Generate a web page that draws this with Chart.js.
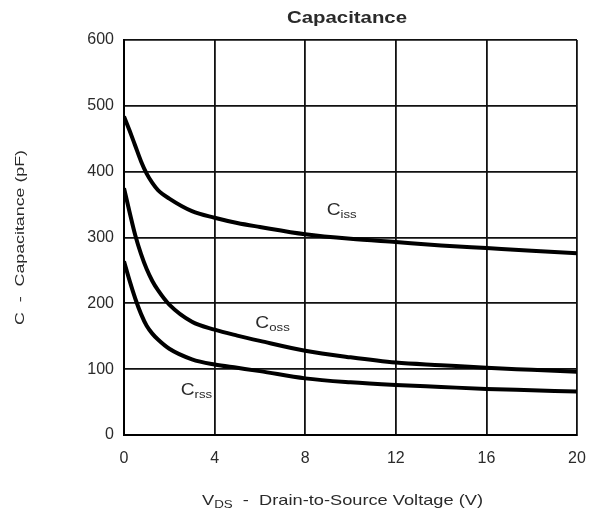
<!DOCTYPE html>
<html>
<head>
<meta charset="utf-8">
<script src="https://cdn.jsdelivr.net/npm/chart.js@4/dist/chart.umd.min.js"></script>
<style>
  html, body { margin: 0; padding: 0; background: #fff; }
  #wrap { width: 602px; height: 513px; position: relative; }
</style>
</head>
<body>
<div id="wrap"><canvas id="capChart"></canvas></div>
<script>
// V_DS values (V)
const vds = [0, 0.25, 0.5, 0.75, 1, 1.25, 1.5, 2, 3, 4, 5, 6, 8, 10, 12, 14, 16, 18, 20];
// capacitance curves (pF)
const ciss = [484, 462, 439, 416, 397, 383, 372, 359, 340, 330, 322, 316, 305, 298, 293, 288, 284, 280, 276];
const coss = [375, 338, 303, 275, 252, 234, 220, 198, 172, 160, 151, 143, 128, 118, 110, 106, 102, 99, 96];
const crss = [264, 234, 207, 184, 166, 154, 145, 131, 115, 107, 102, 97, 86, 80, 76, 73, 70, 68, 66];

const xTicks = [0, 4, 8, 12, 16, 20];
const yTicks = [0, 100, 200, 300, 400, 500, 600];

const FONT = '"Liberation Sans", Arial, sans-serif';
const TEXT = '#2a2a2a';

function toPoints(ys) {
    return vds.map((x, i) => ({ x: x, y: ys[i] }));
}

// curve labels: main letter + subscript, anchored in data units (left / baseline)
const curveLabels = [
    { main: 'C', sub: 'iss', x: 8.95, y: 334 },
    { main: 'C', sub: 'oss', x: 5.8, y: 163 },
    { main: 'C', sub: 'rss', x: 2.5, y: 61 }
];

// draw a sequence of text runs, stretched horizontally by `sx`
function runsWidth(ctx, runs) {
    let w = 0;
    runs.forEach(r => {
        ctx.font = (r.bold ? 'bold ' : '') + r.size + 'px ' + FONT;
        w += ctx.measureText(r.text).width;
    });
    return w;
}
function drawRuns(ctx, runs, x, y, sx) {
    ctx.save();
    ctx.translate(x, y);
    ctx.scale(sx, 1);
    ctx.textAlign = 'left';
    ctx.textBaseline = 'alphabetic';
    let cx = 0;
    runs.forEach(r => {
        ctx.font = (r.bold ? 'bold ' : '') + r.size + 'px ' + FONT;
        ctx.fillText(r.text, cx, r.dy || 0);
        cx += ctx.measureText(r.text).width;
    });
    ctx.restore();
}

const textPlugin = {
    id: 'textPlugin',
    afterDraw(chart) {
        const ctx = chart.ctx;
        const xs = chart.scales.x, ys = chart.scales.y;
        ctx.save();
        ctx.fillStyle = TEXT;

        // title
        const titleRuns = [{ text: 'Capacitance', size: 16, bold: true }];
        const tw = runsWidth(ctx, titleRuns);
        drawRuns(ctx, titleRuns, 287, 23, 120 / tw);

        // curve labels
        curveLabels.forEach(l => {
            drawRuns(ctx, [
                { text: l.main, size: 16 },
                { text: l.sub, size: 11, dy: 3 }
            ], xs.getPixelForValue(l.x), ys.getPixelForValue(l.y), 1.2);
        });

        // x axis title
        const xRuns = [
            { text: 'V', size: 15 },
            { text: 'DS', size: 11, dy: 3 },
            { text: '  -  Drain-to-Source Voltage (V)', size: 15 }
        ];
        drawRuns(ctx, xRuns, 202, 505, 281 / runsWidth(ctx, xRuns));

        // y axis title (rotated)
        const yRuns = [{ text: 'C  -  Capacitance (pF)', size: 13 }];
        const yw = runsWidth(ctx, yRuns);
        ctx.save();
        ctx.translate(24, 325);
        ctx.rotate(-Math.PI / 2);
        drawRuns(ctx, yRuns, 0, 0, 175 / yw);
        ctx.restore();

        ctx.restore();
    }
};

const mkSet = (label, ys) => ({
    label: label,
    data: toPoints(ys),
    borderColor: '#000',
    borderWidth: 4,
    pointRadius: 0,
    fill: false,
    cubicInterpolationMode: 'monotone'
});

new Chart(document.getElementById('capChart'), {
    type: 'line',
    data: {
        datasets: [
            mkSet('Ciss', ciss),
            mkSet('Coss', coss),
            mkSet('Crss', crss)
        ]
    },
    options: {
        responsive: true,
        maintainAspectRatio: false,
        animation: false,
        layout: { padding: { top: 40, right: 25, left: 0, bottom: 0 } },
        plugins: {
            legend: { display: false },
            tooltip: { enabled: false },
            title: { display: false }
        },
        scales: {
            x: {
                type: 'linear',
                min: 0,
                max: 20,
                afterBuildTicks: s => { s.ticks = xTicks.map(v => ({ value: v })); },
                afterFit: s => { s.height = 78; },
                grid: { color: '#111', lineWidth: 1.8, drawTicks: false },
                border: { color: '#000', width: 2 },
                ticks: { padding: 14, color: TEXT, font: { family: FONT, size: 16 } }
            },
            y: {
                min: 0,
                max: 600,
                afterBuildTicks: s => { s.ticks = yTicks.map(v => ({ value: v })); },
                afterFit: s => { s.width = 124; },
                grid: { color: '#111', lineWidth: 1.8, drawTicks: false },
                border: { color: '#000', width: 2 },
                ticks: { padding: 10, color: TEXT, font: { family: FONT, size: 16 } }
            }
        }
    },
    plugins: [textPlugin]
});
</script>
</body>
</html>
